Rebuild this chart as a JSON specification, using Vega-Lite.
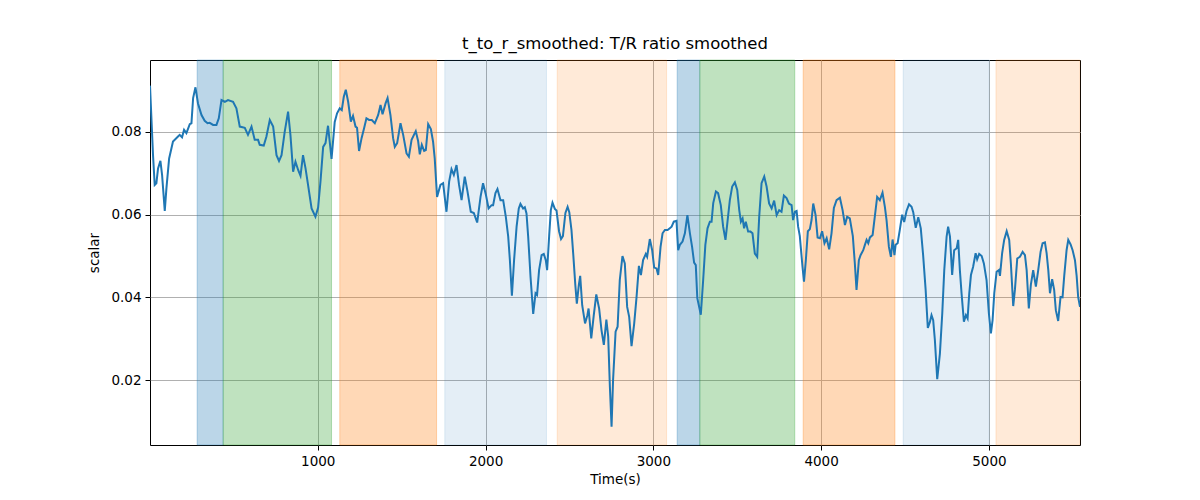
{
"$schema": "https://vega.github.io/schema/vega-lite/v6.json",
"autosize": {"type": "none"},
"width": 930,
"height": 385,
"padding": {"left": 150, "top": 60, "right": 120, "bottom": 55},
"background": "white",
"config": {
  "font": "DejaVu Sans",
  "view": {"stroke": "black", "strokeWidth": 1},
  "axis": {"grid": true, "gridColor": "#b0b0b0", "gridWidth": 1, "domain": false, "tickColor": "black", "tickSize": 5, "tickWidth": 1, "labelFont": "DejaVu Sans", "labelFontSize": 13.5, "labelColor": "black", "labelPadding": 4, "titleFont": "DejaVu Sans", "titleFontSize": 13.5, "titleFontWeight": "normal", "titleColor": "black"}
},
"title": {"text": "t_to_r_smoothed: T/R ratio smoothed", "font": "DejaVu Sans", "fontSize": 16.5, "fontWeight": "normal", "color": "black", "anchor": "middle", "offset": 7},
"datasets": {
  "spans": [
    {"start": 281, "end": 436, "phase": "blue"},
    {"start": 436, "end": 1082, "phase": "green"},
    {"start": 1131, "end": 1708, "phase": "orange"},
    {"start": 1757, "end": 2363, "phase": "lightblue"},
    {"start": 2427, "end": 3079, "phase": "lightorange"},
    {"start": 3142, "end": 3277, "phase": "blue"},
    {"start": 3277, "end": 3843, "phase": "green"},
    {"start": 3893, "end": 4440, "phase": "orange"},
    {"start": 4489, "end": 5002, "phase": "lightblue"},
    {"start": 5042, "end": 5543, "phase": "lightorange"}
  ],
  "series": [
{"t":0,"v":0.0912},{"t":18,"v":0.0744},{"t":28,"v":0.0672},{"t":38,"v":0.0676},{"t":48,"v":0.0712},{"t":62,"v":0.0730},{"t":72,"v":0.0696},{"t":88,"v":0.0609},{"t":98,"v":0.0664},{"t":114,"v":0.0736},{"t":137,"v":0.0777},{"t":167,"v":0.0789},{"t":177,"v":0.0793},{"t":191,"v":0.0787},{"t":203,"v":0.0805},{"t":217,"v":0.0797},{"t":237,"v":0.0819},{"t":247,"v":0.0821},{"t":257,"v":0.0882},{"t":271,"v":0.0908},{"t":286,"v":0.0869},{"t":307,"v":0.0841},{"t":326,"v":0.0827},{"t":343,"v":0.0821},{"t":356,"v":0.0822},{"t":376,"v":0.0817},{"t":396,"v":0.0817},{"t":410,"v":0.0833},{"t":426,"v":0.0877},{"t":446,"v":0.0873},{"t":465,"v":0.0877},{"t":495,"v":0.0873},{"t":515,"v":0.0857},{"t":535,"v":0.0813},{"t":565,"v":0.0810},{"t":584,"v":0.0793},{"t":605,"v":0.0813},{"t":624,"v":0.0781},{"t":644,"v":0.0781},{"t":654,"v":0.0769},{"t":678,"v":0.0767},{"t":694,"v":0.0789},{"t":714,"v":0.0829},{"t":734,"v":0.0813},{"t":754,"v":0.0744},{"t":769,"v":0.0730},{"t":784,"v":0.0744},{"t":803,"v":0.0801},{"t":823,"v":0.0849},{"t":837,"v":0.0793},{"t":853,"v":0.0704},{"t":867,"v":0.0728},{"t":883,"v":0.0708},{"t":897,"v":0.0694},{"t":912,"v":0.0744},{"t":927,"v":0.0712},{"t":942,"v":0.0672},{"t":963,"v":0.0615},{"t":986,"v":0.0595},{"t":1002,"v":0.0617},{"t":1016,"v":0.0680},{"t":1032,"v":0.0764},{"t":1046,"v":0.0773},{"t":1061,"v":0.0815},{"t":1082,"v":0.0735},{"t":1101,"v":0.0824},{"t":1115,"v":0.0845},{"t":1131,"v":0.0857},{"t":1143,"v":0.0853},{"t":1155,"v":0.0885},{"t":1167,"v":0.0902},{"t":1181,"v":0.0873},{"t":1197,"v":0.0825},{"t":1210,"v":0.0839},{"t":1225,"v":0.0813},{"t":1234,"v":0.0810},{"t":1246,"v":0.0754},{"t":1261,"v":0.0785},{"t":1276,"v":0.0809},{"t":1290,"v":0.0833},{"t":1306,"v":0.0829},{"t":1322,"v":0.0829},{"t":1340,"v":0.0821},{"t":1360,"v":0.0841},{"t":1374,"v":0.0865},{"t":1386,"v":0.0843},{"t":1404,"v":0.0869},{"t":1416,"v":0.0882},{"t":1433,"v":0.0841},{"t":1449,"v":0.0785},{"t":1459,"v":0.0764},{"t":1473,"v":0.0773},{"t":1493,"v":0.0821},{"t":1509,"v":0.0793},{"t":1529,"v":0.0748},{"t":1543,"v":0.0740},{"t":1559,"v":0.0781},{"t":1584,"v":0.0802},{"t":1598,"v":0.0778},{"t":1608,"v":0.0746},{"t":1620,"v":0.0769},{"t":1634,"v":0.0754},{"t":1644,"v":0.0756},{"t":1658,"v":0.0819},{"t":1674,"v":0.0807},{"t":1687,"v":0.0777},{"t":1697,"v":0.0736},{"t":1711,"v":0.0643},{"t":1731,"v":0.0672},{"t":1747,"v":0.0676},{"t":1767,"v":0.0607},{"t":1783,"v":0.0680},{"t":1797,"v":0.0710},{"t":1811,"v":0.0696},{"t":1827,"v":0.0720},{"t":1842,"v":0.0672},{"t":1857,"v":0.0635},{"t":1876,"v":0.0692},{"t":1892,"v":0.0657},{"t":1912,"v":0.0607},{"t":1930,"v":0.0604},{"t":1950,"v":0.0581},{"t":1970,"v":0.0643},{"t":1985,"v":0.0676},{"t":2002,"v":0.0648},{"t":2018,"v":0.0615},{"t":2036,"v":0.0623},{"t":2045,"v":0.0623},{"t":2059,"v":0.0652},{"t":2071,"v":0.0662},{"t":2089,"v":0.0635},{"t":2105,"v":0.0635},{"t":2121,"v":0.0594},{"t":2135,"v":0.0547},{"t":2145,"v":0.0490},{"t":2157,"v":0.0404},{"t":2170,"v":0.0490},{"t":2185,"v":0.0571},{"t":2198,"v":0.0615},{"t":2208,"v":0.0626},{"t":2224,"v":0.0615},{"t":2234,"v":0.0618},{"t":2244,"v":0.0603},{"t":2254,"v":0.0547},{"t":2268,"v":0.0450},{"t":2284,"v":0.0360},{"t":2298,"v":0.0410},{"t":2307,"v":0.0406},{"t":2319,"v":0.0466},{"t":2334,"v":0.0502},{"t":2347,"v":0.0505},{"t":2359,"v":0.0490},{"t":2367,"v":0.0466},{"t":2379,"v":0.0548},{"t":2389,"v":0.0611},{"t":2399,"v":0.0629},{"t":2413,"v":0.0614},{"t":2423,"v":0.0610},{"t":2438,"v":0.0560},{"t":2450,"v":0.0541},{"t":2461,"v":0.0548},{"t":2476,"v":0.0604},{"t":2489,"v":0.0619},{"t":2499,"v":0.0606},{"t":2512,"v":0.0563},{"t":2523,"v":0.0502},{"t":2535,"v":0.0430},{"t":2544,"v":0.0385},{"t":2556,"v":0.0430},{"t":2564,"v":0.0452},{"t":2576,"v":0.0381},{"t":2593,"v":0.0337},{"t":2607,"v":0.0357},{"t":2614,"v":0.0373},{"t":2630,"v":0.0301},{"t":2645,"v":0.0357},{"t":2660,"v":0.0407},{"t":2677,"v":0.0373},{"t":2691,"v":0.0321},{"t":2705,"v":0.0285},{"t":2720,"v":0.0346},{"t":2731,"v":0.0305},{"t":2741,"v":0.0184},{"t":2751,"v":0.0087},{"t":2760,"v":0.0200},{"t":2775,"v":0.0317},{"t":2787,"v":0.0329},{"t":2800,"v":0.0442},{"t":2816,"v":0.0500},{"t":2830,"v":0.0482},{"t":2844,"v":0.0377},{"t":2856,"v":0.0353},{"t":2870,"v":0.0282},{"t":2886,"v":0.0337},{"t":2900,"v":0.0401},{"t":2914,"v":0.0476},{"t":2926,"v":0.0454},{"t":2939,"v":0.0490},{"t":2955,"v":0.0505},{"t":2963,"v":0.0498},{"t":2979,"v":0.0541},{"t":2993,"v":0.0514},{"t":3005,"v":0.0472},{"t":3019,"v":0.0470},{"t":3029,"v":0.0454},{"t":3043,"v":0.0522},{"t":3055,"v":0.0555},{"t":3069,"v":0.0563},{"t":3085,"v":0.0563},{"t":3098,"v":0.0567},{"t":3109,"v":0.0571},{"t":3122,"v":0.0583},{"t":3138,"v":0.0585},{"t":3148,"v":0.0514},{"t":3158,"v":0.0527},{"t":3174,"v":0.0535},{"t":3188,"v":0.0555},{"t":3203,"v":0.0599},{"t":3218,"v":0.0555},{"t":3231,"v":0.0522},{"t":3243,"v":0.0484},{"t":3253,"v":0.0478},{"t":3262,"v":0.0398},{"t":3272,"v":0.0379},{"t":3283,"v":0.0358},{"t":3297,"v":0.0442},{"t":3310,"v":0.0527},{"t":3323,"v":0.0567},{"t":3337,"v":0.0583},{"t":3347,"v":0.0583},{"t":3357,"v":0.0628},{"t":3373,"v":0.0656},{"t":3386,"v":0.0652},{"t":3402,"v":0.0623},{"t":3416,"v":0.0571},{"t":3430,"v":0.0539},{"t":3442,"v":0.0583},{"t":3456,"v":0.0635},{"t":3470,"v":0.0668},{"t":3486,"v":0.0678},{"t":3500,"v":0.0660},{"t":3512,"v":0.0611},{"t":3522,"v":0.0583},{"t":3532,"v":0.0591},{"t":3541,"v":0.0567},{"t":3551,"v":0.0583},{"t":3565,"v":0.0559},{"t":3579,"v":0.0559},{"t":3591,"v":0.0555},{"t":3605,"v":0.0506},{"t":3619,"v":0.0498},{"t":3631,"v":0.0595},{"t":3645,"v":0.0676},{"t":3661,"v":0.0692},{"t":3675,"v":0.0668},{"t":3690,"v":0.0627},{"t":3705,"v":0.0615},{"t":3720,"v":0.0634},{"t":3735,"v":0.0599},{"t":3750,"v":0.0611},{"t":3764,"v":0.0607},{"t":3778,"v":0.0646},{"t":3794,"v":0.0640},{"t":3808,"v":0.0627},{"t":3824,"v":0.0623},{"t":3833,"v":0.0587},{"t":3844,"v":0.0607},{"t":3854,"v":0.0609},{"t":3863,"v":0.0571},{"t":3873,"v":0.0548},{"t":3889,"v":0.0474},{"t":3898,"v":0.0438},{"t":3909,"v":0.0490},{"t":3921,"v":0.0560},{"t":3933,"v":0.0565},{"t":3943,"v":0.0587},{"t":3953,"v":0.0627},{"t":3967,"v":0.0599},{"t":3979,"v":0.0545},{"t":3993,"v":0.0543},{"t":4006,"v":0.0560},{"t":4020,"v":0.0531},{"t":4033,"v":0.0543},{"t":4048,"v":0.0516},{"t":4062,"v":0.0555},{"t":4076,"v":0.0616},{"t":4092,"v":0.0635},{"t":4112,"v":0.0641},{"t":4128,"v":0.0611},{"t":4142,"v":0.0575},{"t":4155,"v":0.0595},{"t":4171,"v":0.0591},{"t":4189,"v":0.0548},{"t":4201,"v":0.0482},{"t":4211,"v":0.0418},{"t":4225,"v":0.0490},{"t":4235,"v":0.0502},{"t":4251,"v":0.0514},{"t":4261,"v":0.0527},{"t":4271,"v":0.0539},{"t":4281,"v":0.0531},{"t":4291,"v":0.0545},{"t":4307,"v":0.0551},{"t":4320,"v":0.0595},{"t":4334,"v":0.0643},{"t":4350,"v":0.0635},{"t":4366,"v":0.0653},{"t":4380,"v":0.0619},{"t":4390,"v":0.0587},{"t":4404,"v":0.0522},{"t":4416,"v":0.0498},{"t":4426,"v":0.0540},{"t":4437,"v":0.0502},{"t":4444,"v":0.0527},{"t":4456,"v":0.0531},{"t":4469,"v":0.0563},{"t":4483,"v":0.0600},{"t":4495,"v":0.0582},{"t":4509,"v":0.0609},{"t":4524,"v":0.0625},{"t":4539,"v":0.0619},{"t":4549,"v":0.0606},{"t":4564,"v":0.0568},{"t":4579,"v":0.0594},{"t":4594,"v":0.0567},{"t":4608,"v":0.0502},{"t":4623,"v":0.0418},{"t":4636,"v":0.0326},{"t":4648,"v":0.0340},{"t":4658,"v":0.0357},{"t":4668,"v":0.0345},{"t":4678,"v":0.0297},{"t":4692,"v":0.0202},{"t":4708,"v":0.0264},{"t":4722,"v":0.0361},{"t":4734,"v":0.0466},{"t":4748,"v":0.0547},{"t":4757,"v":0.0571},{"t":4768,"v":0.0547},{"t":4781,"v":0.0454},{"t":4793,"v":0.0514},{"t":4808,"v":0.0519},{"t":4817,"v":0.0539},{"t":4827,"v":0.0466},{"t":4837,"v":0.0410},{"t":4851,"v":0.0341},{"t":4863,"v":0.0357},{"t":4873,"v":0.0349},{"t":4883,"v":0.0410},{"t":4893,"v":0.0454},{"t":4906,"v":0.0474},{"t":4921,"v":0.0507},{"t":4930,"v":0.0492},{"t":4942,"v":0.0505},{"t":4957,"v":0.0500},{"t":4970,"v":0.0482},{"t":4986,"v":0.0442},{"t":5000,"v":0.0361},{"t":5012,"v":0.0313},{"t":5022,"v":0.0345},{"t":5032,"v":0.0410},{"t":5046,"v":0.0462},{"t":5060,"v":0.0466},{"t":5066,"v":0.0452},{"t":5079,"v":0.0507},{"t":5091,"v":0.0539},{"t":5106,"v":0.0560},{"t":5121,"v":0.0539},{"t":5131,"v":0.0482},{"t":5145,"v":0.0379},{"t":5155,"v":0.0418},{"t":5169,"v":0.0494},{"t":5185,"v":0.0498},{"t":5201,"v":0.0510},{"t":5215,"v":0.0502},{"t":5225,"v":0.0466},{"t":5238,"v":0.0373},{"t":5250,"v":0.0430},{"t":5264,"v":0.0466},{"t":5280,"v":0.0426},{"t":5294,"v":0.0466},{"t":5308,"v":0.0510},{"t":5320,"v":0.0531},{"t":5334,"v":0.0533},{"t":5344,"v":0.0507},{"t":5354,"v":0.0466},{"t":5364,"v":0.0410},{"t":5377,"v":0.0444},{"t":5389,"v":0.0418},{"t":5399,"v":0.0369},{"t":5413,"v":0.0343},{"t":5427,"v":0.0401},{"t":5439,"v":0.0400},{"t":5449,"v":0.0452},{"t":5463,"v":0.0514},{"t":5473,"v":0.0539},{"t":5487,"v":0.0528},{"t":5499,"v":0.0514},{"t":5513,"v":0.0490},{"t":5523,"v":0.0452},{"t":5532,"v":0.0401},{"t":5543,"v":0.0377}
  ]
},
"layer": [
  {
    "data": {"name": "spans"},
    "mark": {"type": "rect", "strokeWidth": 1},
    "encoding": {
      "x": {"field": "start", "type": "quantitative", "scale": {"domain": [0, 5543], "nice": false, "zero": false}, "axis": {"values": [1000, 2000, 3000, 4000, 5000], "format": "d", "title": "Time(s)", "titlePadding": 5}},
      "x2": {"field": "end"},
      "fill": {"field": "phase", "type": "nominal", "legend": null, "scale": {"domain": ["blue", "green", "orange", "lightblue", "lightorange"], "range": ["rgba(31,119,180,0.3)", "rgba(44,160,44,0.3)", "rgba(255,127,14,0.3)", "rgba(31,119,180,0.12)", "rgba(255,127,14,0.16)"]}},
      "stroke": {"field": "phase", "type": "nominal", "legend": null, "scale": {"domain": ["blue", "green", "orange", "lightblue", "lightorange"], "range": ["rgba(31,119,180,0.3)", "rgba(44,160,44,0.3)", "rgba(255,127,14,0.3)", "rgba(31,119,180,0.12)", "rgba(255,127,14,0.16)"]}}
    }
  },
  {
    "data": {"name": "series"},
    "mark": {"type": "line", "color": "#1f77b4", "strokeWidth": 2, "clip": true},
    "encoding": {
      "x": {"field": "t", "type": "quantitative"},
      "y": {"field": "v", "type": "quantitative", "scale": {"domain": [0.0043, 0.0974], "nice": false, "zero": false}, "axis": {"values": [0.02, 0.04, 0.06, 0.08], "format": ".2f", "title": "scalar", "titlePadding": 9}}
    }
  }
]
}
